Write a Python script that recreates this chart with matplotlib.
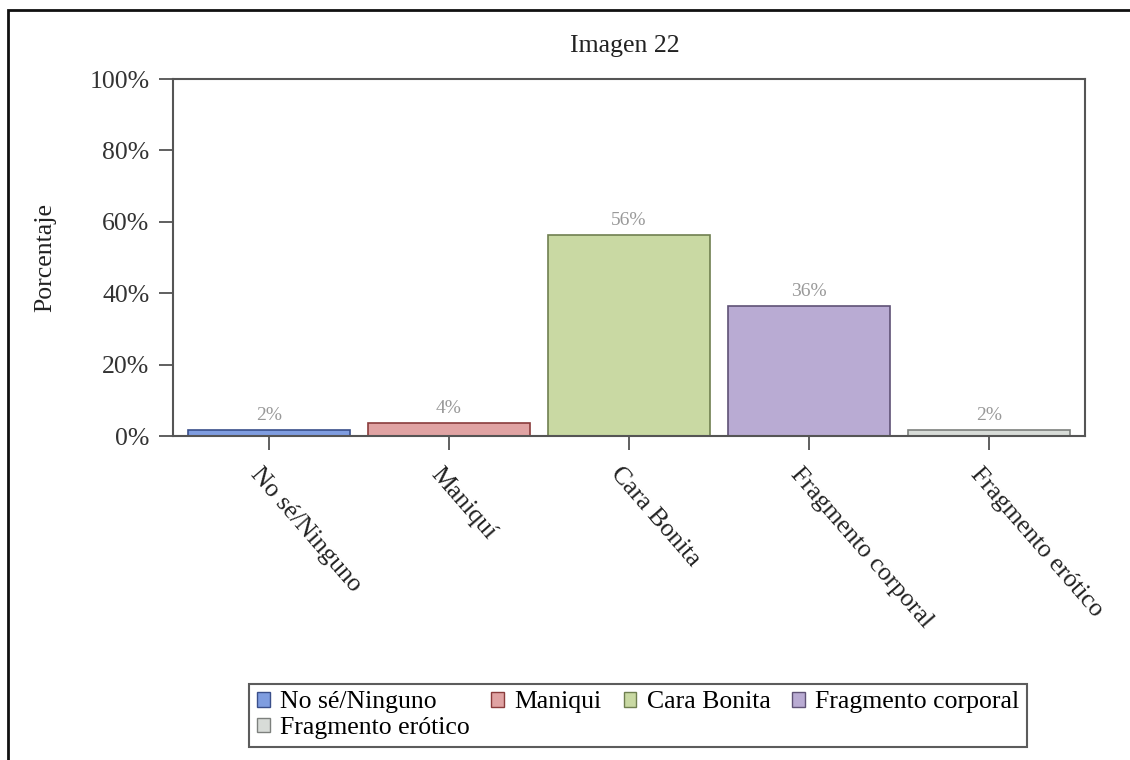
import matplotlib
matplotlib.use('Agg')
import matplotlib.pyplot as plt
from matplotlib.patches import Patch, Rectangle
from matplotlib.transforms import ScaledTranslation

# --- Data ---
categories = ['No sé/Ninguno', 'Maniquí', 'Cara Bonita', 'Fragmento corporal', 'Fragmento erótico']
legend_labels = ['No sé/Ninguno', 'Maniqui', 'Cara Bonita', 'Fragmento corporal', 'Fragmento erótico']
values = [1.8, 3.6, 56.4, 36.4, 1.8]
value_labels = ['2%', '4%', '56%', '36%', '2%']
y_ticks = [0, 20, 40, 60, 80, 100]
y_tick_labels = ['0%', '20%', '40%', '60%', '80%', '100%']

fill_colors = ['#7f9de0', '#e0a3a3', '#c9d9a3', '#b9abd3', '#d8dcd8']
edge_colors = ['#3a4f8a', '#8a3c3c', '#6f7f50', '#5f5276', '#7d807d']

plt.rcParams['font.family'] = ['Liberation Serif', 'DejaVu Serif']
FS = 18.5

fig = plt.figure(figsize=(11.3, 7.6), dpi=100)
ax = fig.add_axes([0.1531, 0.4263, 0.8071, 0.4697])

x = list(range(len(categories)))
ax.bar(x, values, width=0.9, color=fill_colors, edgecolor=edge_colors, linewidth=1.2)

for xi, v, lab in zip(x, values, value_labels):
    ax.text(xi, v + 1.6, lab, ha='center', va='bottom', fontsize=14, color='#999999')

ax.set_xlim(-0.533, 4.533)
ax.set_ylim(0, 100)
ax.set_yticks(y_ticks)
ax.set_yticklabels(y_tick_labels, fontsize=FS, color='#333333')
ax.set_xticks(x)
ax.set_xticklabels(categories, fontsize=FS, rotation=-49, ha='left', va='top',
                   rotation_mode='anchor', color='#222222')
ax.tick_params(axis='both', direction='out', length=10, width=1.2, color='#444444')
ax.tick_params(axis='x', pad=6)
ax.tick_params(axis='y', pad=7)
# nudge the rotated category labels a little down-left, as in the original
shift = ScaledTranslation(-6 / 100, -5 / 100, fig.dpi_scale_trans)
for lab in ax.get_xticklabels():
    lab.set_transform(lab.get_transform() + shift)
for sp in ax.spines.values():
    sp.set_color('#555555')
    sp.set_linewidth(1.5)

ax.set_ylabel('Porcentaje', fontsize=FS, color='#222222', labelpad=24)
fig.text(0.5531, 0.94, 'Imagen 22', ha='center', va='center', fontsize=FS, color='#222222')

# Legend: reorder so that matplotlib's column-wise fill reads row-wise
handles = [Patch(facecolor=c, edgecolor=e) for c, e in zip(fill_colors, edge_colors)]
order = [0, 4, 1, 2, 3]
leg = fig.legend([handles[i] for i in order], [legend_labels[i] for i in order],
                 ncol=4, loc='lower left',
                 bbox_to_anchor=(249 / 1130, 1 - 747 / 760), fontsize=FS,
                 frameon=True, fancybox=False, handlelength=0.5, handleheight=0.5,
                 handletextpad=0.4, columnspacing=0.85, borderpad=0.3, labelspacing=0.15,
                 borderaxespad=0)
leg.get_frame().set_edgecolor('#333333')
leg.get_frame().set_linewidth(1.5)

# Outer frame
fig.patches.append(Rectangle((8 / 1130, -0.05), 1.2, 1 - 10 / 760 + 0.05,
                             transform=fig.transFigure, fill=False,
                             edgecolor='#111111', linewidth=2.0))

fig.savefig('out.png', dpi=100)
